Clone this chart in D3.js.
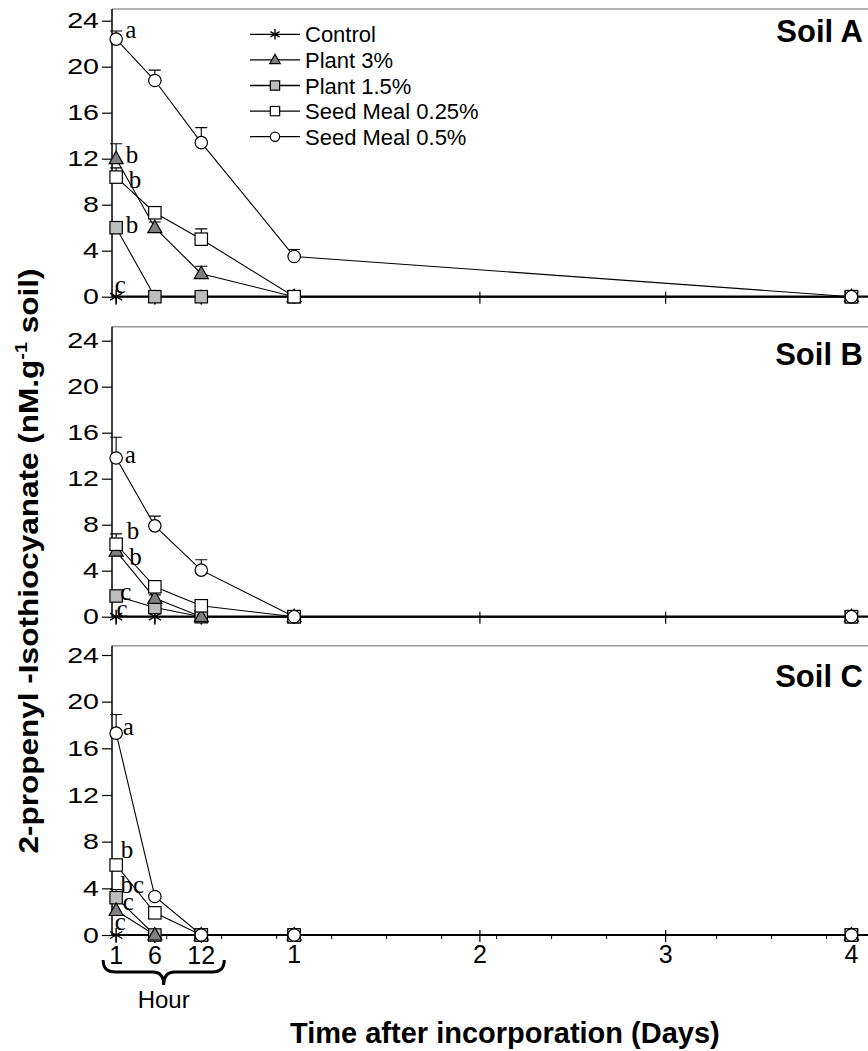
<!DOCTYPE html>
<html>
<head>
<meta charset="utf-8">
<script src="https://cdnjs.cloudflare.com/ajax/libs/d3/7.8.5/d3.min.js"></script>
<style>
body { margin: 0; background: #fff; }
svg { display: block; font-family: "Liberation Sans", Arial, sans-serif; }
</style>
</head>
<body>
<script>
// sampling times in days : 1 h, 6 h, 12 h, 1 d, 4 d
var times = [1/24, 6/24, 12/24, 1, 4];
var hourTicks = [1, 6, 12];
var dayTicks = [1, 2, 3, 4];
var yTicks = [0, 4, 8, 12, 16, 20, 24];

// legend order
var seriesNames = ["Control", "Plant 3%", "Plant 1.5%", "Seed Meal 0.25%", "Seed Meal 0.5%"];
var seriesMarks = ["star", "tri", "gsq", "sq", "circ"];

// Soil A
var soilA_mean = [
    [0, 0, 0, 0, 0],
    [12.0, 6.0, 2.0, 0, 0],
    [6.0, 0, 0, 0, 0],
    [10.4, 7.3, 5.0, 0, 0],
    [22.4, 18.8, 13.4, 3.5, 0]
];
var soilA_err = [
    [0, 0, 0, 0, 0],
    [1.3, 0.5, 0.65, 0, 0],
    [0, 0, 0, 0, 0],
    [0.8, 0.5, 0.9, 0, 0],
    [0.7, 0.9, 1.3, 0.6, 0]
];
var soilA_letters = ["c", "b", "b", "b", "a"];

// Soil B
var soilB_mean = [
    [0, 0, 0, 0, 0],
    [5.7, 1.6, 0, 0, 0],
    [1.8, 0.8, 0, 0, 0],
    [6.3, 2.6, 0.95, 0, 0],
    [13.8, 7.9, 4.05, 0, 0]
];
var soilB_err = [
    [0, 0, 0, 0, 0],
    [0.5, 0.3, 0, 0, 0],
    [0, 0, 0, 0, 0],
    [0.9, 0.3, 0.5, 0, 0],
    [1.8, 0.85, 0.9, 0, 0]
];
var soilB_letters = ["c", "b", "c", "b", "a"];

// Soil C
var soilC_mean = [
    [0, 0, 0, 0, 0],
    [2.1, 0, 0, 0, 0],
    [3.2, 0, 0, 0, 0],
    [6.0, 1.9, 0, 0, 0],
    [17.3, 3.3, 0, 0, 0]
];
var soilC_err = [
    [0, 0, 0, 0, 0],
    [0, 0, 0, 0, 0],
    [0.7, 0, 0, 0, 0],
    [0, 0, 0, 0, 0],
    [1.6, 0, 0, 0, 0]
];
var soilC_letters = ["c", "c", "bc", "b", "a"];


// layout
var W = 868, H = 1051;
var plotLeft = 112, plotRight = 868;

var panels = [
    {name: "Soil A", mean: soilA_mean, err: soilA_err, letters: soilA_letters,
     top: 9, zero: 296.7, y24: 20.7, labelY: 42, minor: false,
     letterPos: [[-1.5, -3.5], [9.5, 4.5], [9.5, 5.5], [12.5, 11], [9, -1]]},
    {name: "Soil B", mean: soilB_mean, err: soilB_err, letters: soilB_letters,
     top: 326.7, zero: 616.7, y24: 340.7, labelY: 365, minor: false,
     letterPos: [[0.3, 0], [13, 14], [4, 4], [10.6, -5], [8.6, 4.5]]},
    {name: "Soil C", mean: soilC_mean, err: soilC_err, letters: soilC_letters,
     top: 645.7, zero: 935, y24: 655, labelY: 687, minor: true,
     letterPos: [[-1.4, -5], [6.6, -1], [4.3, -4.5], [4.6, -7], [6.6, 2]]}
];

// control, plant 1.5, plant 3, seed meal 0.25, seed meal 0.5 : stacking seen in the picture
var drawOrder = [0, 2, 1, 3, 4];

var svg = d3.select("body").append("svg")
    .attr("width", W)
    .attr("height", H);

// x axis in days
var x = d3.scaleLinear().domain([0, 4]).range([108.4, 851.4]);

function marker(g, type, cx, cy, k) {
    k = k || 1;
    if (type == "circ") {
        g.append("circle").attr("cx", cx).attr("cy", cy).attr("r", 6.2 * k)
            .attr("fill", "#fff").attr("stroke", "#000").attr("stroke-width", 1.2);
    } else if (type == "sq" || type == "gsq") {
        g.append("rect").attr("x", cx - 6.2 * k).attr("y", cy - 6.2 * k)
            .attr("width", 12.4 * k).attr("height", 12.4 * k)
            .attr("fill", type == "sq" ? "#fff" : "#bdbdbd")
            .attr("stroke", "#000").attr("stroke-width", 1.2);
    } else if (type == "tri") {
        var pts = [[0, -7.5], [7, 5], [-7, 5]].map(function(p) { return [cx + p[0] * k, cy + p[1] * k]; });
        g.append("path").attr("d", d3.line()(pts) + "Z")
            .attr("fill", "#808080").attr("stroke", "#000").attr("stroke-width", 1.2);
    } else {
        var r = 7 * k, d = "";
        [90, 30, 150].forEach(function(a) {
            var dx = r * Math.cos(a * Math.PI / 180), dy = r * Math.sin(a * Math.PI / 180);
            d += "M" + (cx - dx) + "," + (cy - dy) + "L" + (cx + dx) + "," + (cy + dy);
        });
        g.append("path").attr("d", d).attr("stroke", "#000").attr("stroke-width", 1.4).attr("fill", "none");
    }
}

panels.forEach(function(p) {
    var y = d3.scaleLinear().domain([0, 24]).range([p.zero, p.y24]);
    var g = svg.append("g").attr("class", "panel");

    // grey top frame line
    g.append("line")
        .attr("x1", plotLeft).attr("x2", plotRight)
        .attr("y1", p.top).attr("y2", p.top)
        .attr("stroke", "#9a9a9a").attr("stroke-width", 1.5);

    // y axis
    var yAxis = g.append("g")
        .attr("transform", "translate(" + plotLeft + ",0)")
        .call(d3.axisLeft(y).tickValues(yTicks).tickSize(10).tickPadding(3).tickSizeOuter(0));
    yAxis.select(".domain").remove();
    yAxis.attr("font-size", 22).attr("font-family", "'Liberation Sans', Arial, sans-serif");
    yAxis.selectAll(".tick line").attr("stroke", "#000").attr("stroke-width", 1.2);
    yAxis.selectAll(".tick text")
        .attr("fill", "#000")
        .attr("transform", "scale(1.3,1)")
        .attr("x", -13 / 1.3);

    g.append("line")
        .attr("x1", plotLeft).attr("x2", plotLeft)
        .attr("y1", p.top).attr("y2", p.zero)
        .attr("stroke", "#000").attr("stroke-width", 1.5);

    // x axis line and ticks
    g.append("line")
        .attr("x1", plotLeft).attr("x2", plotRight)
        .attr("y1", p.zero).attr("y2", p.zero)
        .attr("stroke", "#000").attr("stroke-width", 2.2);

    g.selectAll(".hourtick").data(times.slice(0, 3))
        .enter().append("line")
        .attr("x1", function(d) { return x(d); }).attr("x2", function(d) { return x(d); })
        .attr("y1", p.zero).attr("y2", p.zero + 8)
        .attr("stroke", "#000").attr("stroke-width", 1.2);

    g.selectAll(".daytick").data(dayTicks)
        .enter().append("line")
        .attr("x1", function(d) { return x(d); }).attr("x2", function(d) { return x(d); })
        .attr("y1", p.zero - 5).attr("y2", p.zero + 7)
        .attr("stroke", "#000").attr("stroke-width", 1.2);

    if (p.minor) {
        var minor = d3.range(0.314, 4, 0.296).filter(function(d) {
            return Math.abs(d - 3) > 0.1;
        });
        g.selectAll(".minortick").data(minor)
            .enter().append("line")
            .attr("x1", function(d) { return x(d); }).attr("x2", function(d) { return x(d); })
            .attr("y1", p.zero).attr("y2", p.zero + 4)
            .attr("stroke", "#000").attr("stroke-width", 1);
    }

    // connecting lines
    drawOrder.forEach(function(si) {
        var pts = times.map(function(t, i) { return [x(t), y(p.mean[si][i])]; });
        g.append("path")
            .attr("d", d3.line()(pts))
            .attr("fill", "none")
            .attr("stroke", "#000")
            .attr("stroke-width", 1.1);
    });

    // error bars + markers
    drawOrder.forEach(function(si) {
        times.forEach(function(t, i) {
            var v = p.mean[si][i], e = p.err[si][i];
            if (e > 0) {
                g.append("path")
                    .attr("d", "M" + x(t) + "," + y(v) + "V" + y(v + e) +
                        "M" + (x(t) - 6) + "," + y(v + e) + "H" + (x(t) + 6))
                    .attr("stroke", "#000").attr("stroke-width", 1.1).attr("fill", "none");
            }
        });
        times.forEach(function(t, i) {
            marker(g, seriesMarks[si], x(t), y(p.mean[si][i]));
        });
    });

    // significance letters at first sampling
    p.letters.forEach(function(l, si) {
        g.append("text")
            .attr("x", x(times[0]) + p.letterPos[si][0])
            .attr("y", y(p.mean[si][0]) + p.letterPos[si][1])
            .attr("font-family", "'Liberation Serif', 'Times New Roman', serif")
            .attr("font-size", 25)
            .text(l);
    });

    g.append("text")
        .attr("x", 863).attr("y", p.labelY)
        .attr("text-anchor", "end")
        .attr("font-weight", "bold")
        .attr("font-size", 31)
        .text(p.name);
});

// legend
var leg = svg.append("g").attr("class", "legend");
seriesNames.forEach(function(n, i) {
    var ly = 34.3 + i * 25.6;
    leg.append("line").attr("x1", 250).attr("x2", 300).attr("y1", ly).attr("y2", ly)
        .attr("stroke", "#000").attr("stroke-width", 1.3);
    marker(leg, seriesMarks[i], 275, ly, 0.75);
    leg.append("text").attr("x", 305).attr("y", ly + 8)
        .attr("font-size", 22)
        .text(n);
});

// bottom tick labels
var lastZero = panels[2].zero;
svg.selectAll(".hourlab").data(hourTicks)
    .enter().append("text")
    .attr("x", function(d) { return x(d / 24); })
    .attr("y", lastZero + 29)
    .attr("text-anchor", "middle")
    .attr("font-size", 25)
    .text(function(d) { return d; });

svg.selectAll(".daylab").data(dayTicks)
    .enter().append("text")
    .attr("x", function(d) { return x(d); })
    .attr("y", lastZero + 28)
    .attr("text-anchor", "middle")
    .attr("font-size", 25)
    .text(function(d) { return d; });

// brace under the hour labels
var bL = x(hourTicks[0] / 24) - 13, bR = x(hourTicks[2] / 24) + 23, bM = (bL + bR) / 2;
var bT = lastZero + 25, bY = lastZero + 37, bB = lastZero + 50;
svg.append("path")
    .attr("d", "M" + bL + "," + bT + "Q" + bL + "," + bY + " " + (bL + 12) + "," + bY +
        "L" + (bM - 11) + "," + bY + "Q" + bM + "," + bY + " " + bM + "," + bB +
        "Q" + bM + "," + bY + " " + (bM + 11) + "," + bY +
        "L" + (bR - 12) + "," + bY + "Q" + bR + "," + bY + " " + bR + "," + bT)
    .attr("fill", "none")
    .attr("stroke", "#000")
    .attr("stroke-width", 3);

svg.append("text")
    .attr("x", bM).attr("y", 1008)
    .attr("text-anchor", "middle")
    .attr("font-size", 24)
    .text("Hour");

// axis titles
svg.append("text")
    .attr("x", 290).attr("y", 1043)
    .attr("font-weight", "bold")
    .attr("font-size", 29)
    .text("Time after incorporation (Days)");

var yt = svg.append("text")
    .attr("transform", "translate(38,561) rotate(-90)")
    .attr("text-anchor", "middle")
    .attr("font-weight", "bold")
    .attr("font-size", 27)
    .attr("textLength", 585)
    .attr("lengthAdjust", "spacingAndGlyphs");
yt.append("tspan").text("2-propenyl -Isothiocyanate (nM.g");
yt.append("tspan").attr("font-size", 17).attr("dy", -11).text("-1");
yt.append("tspan").attr("dy", 11).text(" soil)");
</script>
</body>
</html>
